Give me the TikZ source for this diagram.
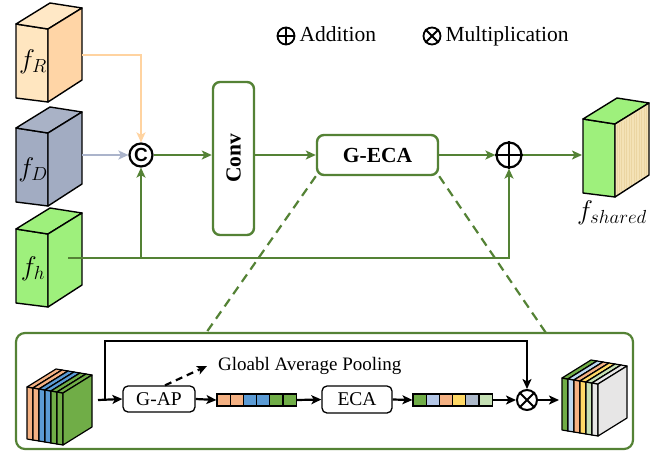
\RequirePackage{fix-cm}
\documentclass[tikz,border=0pt]{standalone}
\usepackage{fontspec}
\setmainfont{Liberation Serif}
\setsansfont{Liberation Sans}
\usepackage{amsmath}
\usetikzlibrary{arrows.meta,positioning}

\definecolor{linegreen}{HTML}{548235}
\definecolor{peachfront}{HTML}{FFE6C0}
\definecolor{peachside}{HTML}{FFD5A6}
\definecolor{peachtop}{HTML}{FFE8C6}
\definecolor{peachline}{HTML}{FFD3A0}
\definecolor{slate}{HTML}{A2ACC2}
\definecolor{slatetop}{HTML}{A9B2C6}
\definecolor{slateline}{HTML}{ABB4CB}
\definecolor{lime}{HTML}{9EF07C}
\definecolor{wood}{HTML}{F4E2B6}
\definecolor{woodgrain}{HTML}{EBD5A2}
\definecolor{sorange}{HTML}{F4B183}
\definecolor{sblue}{HTML}{5B9BD5}
\definecolor{sgreen}{HTML}{70AD47}
\definecolor{lblue}{HTML}{BDD7EE}
\definecolor{vblue}{HTML}{B4C7E7}
\definecolor{syellow}{HTML}{FFD966}
\definecolor{lgreen}{HTML}{C5E0B4}
\definecolor{lgrey}{HTML}{E7E6E6}
\definecolor{bgrey}{HTML}{ADB9CA}

\tikzset{
 >={Stealth[length=10pt,width=9pt,inset=2.5pt]},
 greenline/.style={draw=linegreen, line width=2.2pt},
 greenbox/.style={draw=linegreen, line width=2.4pt, rounded corners=7pt, fill=white,
   inner sep=0pt, font=\fontsize{21.5}{26}\selectfont\bfseries},
 opbox/.style={draw=black, line width=1.3pt, rounded corners=5pt, minimum width=72pt,
   minimum height=26pt, inner sep=0pt, font=\fontsize{19.5}{23}\selectfont},
 cell/.style={draw=black, line width=1.2pt, minimum width=13.2pt, minimum height=12pt, inner sep=0pt},
 flow/.style={draw=black, line width=2.2pt},
 opcirc/.style={circle, draw=black, line width=2.2pt, inner sep=0pt},
 legend/.style={font=\fontsize{21.5}{26}\selectfont, text height=15pt, text depth=4.5pt, inner sep=3pt},
 cubelabel/.style={font=\fontsize{27}{31}\selectfont},
 cubeline/.style={draw=black, line width=1.4pt, line join=round},
}

% feature cube: x, y of front top left corner, front, side, top colour
\newcommand{\featcube}[5]{
  \filldraw[fill=#3, cubeline] (#1,#2) -- ++(32,5) -- ++(0,73) -- ++(-32,-4) -- cycle;
  \filldraw[fill=#5, cubeline] (#1,#2) -- ++(32,5) -- ++(34,-21) -- ++(-32,-5) -- cycle;
  \filldraw[fill=#4, cubeline] (#1+32,#2+5) -- ++(34,-21) -- ++(0,72) -- ++(-34,22) -- cycle;
}
% one channel slab of a feature stack
\newcommand{\slab}[3]{
  \filldraw[fill=#3, draw=black, line width=1.2pt, line join=round] (#1,#2) -- ++(6,1) -- ++(0,52) -- ++(-6,-1) -- cycle;
  \filldraw[fill=#3, draw=black, line width=1.2pt, line join=round] (#1,#2) -- ++(6,1) -- ++(29,-18) -- ++(-6,-1) -- cycle;
  \filldraw[fill=#3, draw=black, line width=1.2pt, line join=round] (#1+6,#2+1) -- ++(29,-18) -- ++(0,52) -- ++(-29,18) -- cycle;
}

\begin{document}
\begin{tikzpicture}[x=1pt,y=-1pt]
\useasboundingbox (0,0) rectangle (670,451);

% legend
\node[opcirc, line width=1.8pt, minimum size=17pt] (addsym) at (286,36) {};
\draw[line width=1.8pt] (addsym.north) -- (addsym.south) (addsym.west) -- (addsym.east);
\node[legend, right=1pt of addsym] (addtext) {Addition};
\node[opcirc, line width=1.8pt, minimum size=17pt] (mulsym) at (432,36) {};
\draw[line width=1.8pt] (mulsym.north west) -- (mulsym.south east) (mulsym.north east) -- (mulsym.south west);
\node[legend, right=1pt of mulsym] (multext) {Multiplication};

% input features
\featcube{16}{24}{peachfront}{peachside}{peachtop}
\featcube{16}{128}{slate}{slate}{slatetop}
\featcube{16}{229}{lime}{lime}{lime}
\node[cubelabel] (fR) at (33,62) {$f_R$};
\node[cubelabel] (fD) at (33,170) {$f_D$};
\node[cubelabel] (fh) at (33,269) {$f_h$};
\coordinate (fRout) at (82,55);
\coordinate (fDout) at (82,155);
\coordinate (fhout) at (68,258);

% fusion branch
\node[opcirc, minimum size=23pt, font=\fontsize{19}{20}\selectfont\sffamily\bfseries] (cat) at (141,155) {C};
\node[greenbox, rotate=90, minimum width=153pt, minimum height=41pt] (conv) at (233.5,158.5) {Conv};
\node[greenbox, minimum width=121pt, minimum height=40pt] (geca) at (377.5,155) {G-ECA};
\node[opcirc, minimum size=25pt] (addop) at (509,155) {};
\draw[line width=2.2pt] (addop.north) -- (addop.south) (addop.west) -- (addop.east);
\featcube{583}{119}{lime}{wood}{lime}
\foreach \t in {0.06,0.13,0.17,0.26,0.33,0.41,0.47,0.55,0.62,0.71,0.78,0.86,0.93}
  \draw[woodgrain, line width=0.4pt] (615+34*\t,126-21*\t) -- (615+34*\t,195-22*\t);
\node[font=\fontsize{27}{31}\selectfont] (fshared) at (612,213) {$f_{shared}$};
\coordinate (fsin) at (582,155);

\draw[->, draw=peachline, line width=2pt] (fRout) -| (cat.north);
\draw[->, draw=slateline, line width=2pt] (fDout) -- (cat.west);
\draw[greenline, ->] (fhout) -| (addop.south);
\draw[greenline, ->] (cat.south |- fhout) -- (cat.south);
\draw[greenline, ->] (cat.east) -- (cat -| conv.north);
\draw[greenline, ->] (conv.south |- cat) -- (geca.west);
\draw[greenline, ->] (geca.east) -- (addop.west);
\draw[greenline, ->] (addop.east) -- (fsin);

% zoom into G-ECA
\coordinate (zoomL) at (206,333);
\coordinate (zoomR) at (546,333);
\draw[greenline, dash pattern=on 9pt off 6pt] (geca.south west) -- (zoomL);
\draw[greenline, dash pattern=on 9pt off 6pt] (geca.south east) -- (zoomR);

% G-ECA detail
\node[draw=linegreen, line width=2.2pt, rounded corners=9pt, minimum width=617pt,
  minimum height=116pt, inner sep=0pt] (panel) at (324.5,391) {};

\foreach \c [count=\i from 0] in {sorange,sorange,sblue,sblue,sgreen,sgreen} {
  \slab{27+6*\i}{387+\i}{\c}
}
\coordinate (instack) at (98,400);
\coordinate (looptop) at (105,341);

\node[opbox] (gap) at (159,399) {G-AP};
\node[font=\fontsize{19}{23}\selectfont, anchor=west, inner sep=2pt] (gaptext) at (216,366) {Gloabl Average Pooling};
\foreach \c [count=\i] in {sorange,sorange,sblue,sblue,sgreen,sgreen}
  \node[cell, fill=\c] (va\i) at ({210.4+13.2*\i},400) {};
\node[opbox, minimum width=70pt, minimum height=27pt] (eca) at (357,399.5) {ECA};
\foreach \c [count=\i] in {sgreen,vblue,sorange,syellow,bgrey,lgreen}
  \node[cell, fill=\c] (vb\i) at ({406.4+13.2*\i},400) {};
\node[opcirc, line width=2pt, minimum size=20pt] (mulop) at (527,400) {};
\draw[line width=2pt] (mulop.north west) -- (mulop.south east) (mulop.north east) -- (mulop.south west);

\foreach \c [count=\i from 0] in {sgreen,lblue,sorange,syellow,lgreen,lgrey} {
  \slab{562+6*\i}{378+\i}{\c}
}
\coordinate (outstack) at (559,400);

\draw[flow, ->] (instack) -- (gap.west);
\draw[flow, ->] (looptop |- instack) -- (looptop) -| (mulop.north);
\draw[flow, ->] (gap.east) -- (va1.west);
\draw[flow, ->] (va6.east) -- (eca.west);
\draw[flow, ->] (eca.east) -- (vb1.west);
\draw[flow, ->] (vb6.east) -- (mulop.west);
\draw[flow, ->] (mulop.east) -- (outstack);
\draw[flow, ->, dash pattern=on 7pt off 5pt] ([xshift=6pt]gap.north) -- ([xshift=-9pt]gaptext.west);
\end{tikzpicture}
\end{document}
